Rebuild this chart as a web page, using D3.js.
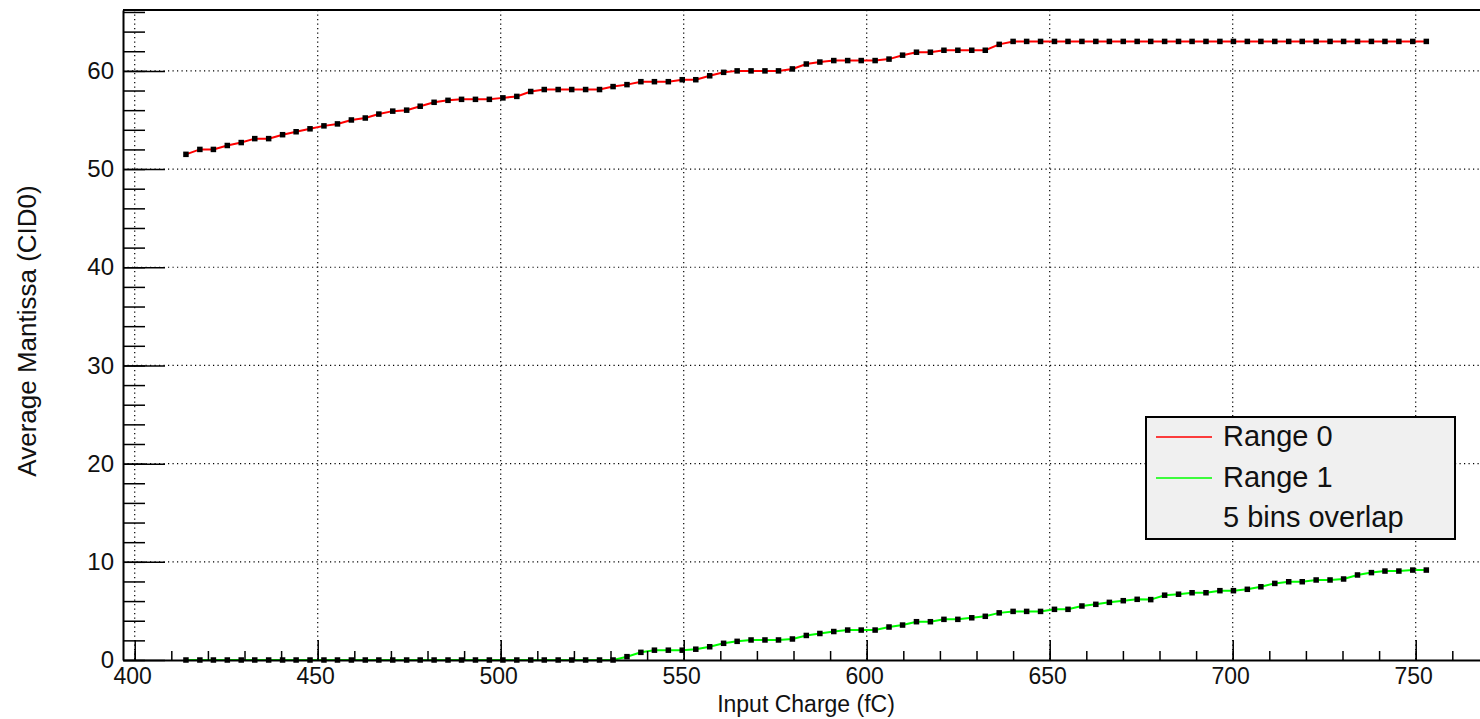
<!DOCTYPE html>
<html>
<head>
<meta charset="utf-8">
<script src="https://cdn.jsdelivr.net/npm/d3@7"></script>
<style>
    body { margin: 0; background: #fff; }
    svg { display: block; font-family: "Liberation Sans", Arial, sans-serif; }
</style>
</head>
<body>
<div id="chart"></div>
<script>
// Input charge values (fC), same for both ranges
const charges = [
    414.0, 417.8, 421.5, 425.3, 429.1, 432.8, 436.6, 440.4, 444.1, 447.9,
    451.7, 455.4, 459.2, 463.0, 466.7, 470.5, 474.3, 478.0, 481.8, 485.6,
    489.3, 493.1, 496.9, 500.6, 504.4, 508.2, 511.9, 515.7, 519.4, 523.2,
    527.0, 530.7, 534.5, 538.3, 542.0, 545.8, 549.6, 553.3, 557.1, 560.9,
    564.6, 568.4, 572.2, 575.9, 579.7, 583.5, 587.2, 591.0, 594.8, 598.5,
    602.3, 606.1, 609.8, 613.6, 617.4, 621.1, 624.9, 628.7, 632.4, 636.2,
    640.0, 643.7, 647.5, 651.3, 655.0, 658.8, 662.6, 666.3, 670.1, 673.9,
    677.6, 681.4, 685.2, 688.9, 692.7, 696.5, 700.2, 704.0, 707.7, 711.5,
    715.3, 719.0, 722.8, 726.6, 730.3, 734.1, 737.9, 741.6, 745.4, 749.2,
    752.9
];

// Range 0 average mantissa
const range0 = [
    51.5, 52.0, 52.0, 52.4, 52.7, 53.1, 53.1, 53.5, 53.8, 54.1,
    54.4, 54.6, 55.0, 55.2, 55.6, 55.9, 56.0, 56.4, 56.8, 57.0,
    57.1, 57.1, 57.1, 57.25, 57.4, 57.9, 58.1, 58.1, 58.1, 58.1,
    58.1, 58.4, 58.6, 58.9, 58.9, 58.9, 59.1, 59.1, 59.5, 59.85,
    60.0, 60.0, 60.0, 60.0, 60.2, 60.7, 60.9, 61.05, 61.05, 61.05,
    61.05, 61.2, 61.6, 61.9, 61.9, 62.1, 62.1, 62.1, 62.1, 62.7,
    63.0, 63.0, 63.0, 63.0, 63.0, 63.0, 63.0, 63.0, 63.0, 63.0,
    63.0, 63.0, 63.0, 63.0, 63.0, 63.0, 63.0, 63.0, 63.0, 63.0,
    63.0, 63.0, 63.0, 63.0, 63.0, 63.0, 63.0, 63.0, 63.0, 63.0,
    63.0
];

// Range 1 average mantissa
const range1 = [
    0, 0, 0, 0, 0, 0, 0, 0, 0, 0,
    0, 0, 0, 0, 0, 0, 0, 0, 0, 0,
    0, 0, 0, 0, 0, 0, 0, 0, 0, 0,
    0, 0, 0.34, 0.78, 1.0, 1.0, 1.0, 1.1, 1.35, 1.7,
    1.9, 2.04, 2.04, 2.04, 2.14, 2.5, 2.7, 2.9, 3.05, 3.05,
    3.05, 3.36, 3.56, 3.9, 3.9, 4.14, 4.14, 4.3, 4.45, 4.8,
    4.95, 4.95, 4.95, 5.16, 5.16, 5.5, 5.67, 5.87, 6.04, 6.18,
    6.15, 6.6, 6.7, 6.85, 6.85, 7.06, 7.06, 7.2, 7.46, 7.8,
    7.97, 7.97, 8.15, 8.15, 8.25, 8.66, 8.9, 9.06, 9.06, 9.16,
    9.16
];

const xTicks = [400, 450, 500, 550, 600, 650, 700, 750];
const yTicks = [0, 10, 20, 30, 40, 50, 60];
const legendLabels = ['Range 0', 'Range 1', '5 bins overlap'];

const width = 1480;
const height = 719;
const plotLeft = 123, plotRight = 1490, plotTop = 10, plotBottom = 660;

const svg = d3.select('#chart')
    .append('svg')
    .attr('width', width)
    .attr('height', height);

const x = d3.scaleLinear()
    .domain([396.8, 770.3])
    .range([plotLeft, plotRight]);

const y = d3.scaleLinear()
    .domain([0, 66.2])
    .range([plotBottom, plotTop]);

// Dotted grid
const grid = svg.append('g')
    .attr('stroke', '#000')
    .attr('stroke-width', 1.2)
    .attr('stroke-dasharray', '1.2,3.3');

grid.selectAll('line.gx')
    .data(xTicks)
    .join('line')
    .attr('class', 'gx')
    .attr('x1', d => x(d)).attr('x2', d => x(d))
    .attr('y1', plotTop).attr('y2', plotBottom);

grid.selectAll('line.gy')
    .data(yTicks.filter(d => d > 0))
    .join('line')
    .attr('class', 'gy')
    .attr('x1', plotLeft).attr('x2', plotRight)
    .attr('y1', d => y(d)).attr('y2', d => y(d));

// Series lines and markers
const series = [
    { name: 'Range 0', values: range0, color: '#ff0000' },
    { name: 'Range 1', values: range1, color: '#00ff00' }
];

const line = d3.line()
    .x(d => x(d[0]))
    .y(d => y(d[1]));

series.forEach(s => {
    const pts = charges.map((c, i) => [c, s.values[i]]);

    svg.append('path')
        .datum(pts)
        .attr('fill', 'none')
        .attr('stroke', s.color)
        .attr('stroke-width', 2)
        .attr('d', line);

    svg.append('g')
        .selectAll('rect')
        .data(pts)
        .join('rect')
        .attr('x', d => x(d[0]) - 2.75)
        .attr('y', d => y(d[1]) - 2.75)
        .attr('width', 5.5)
        .attr('height', 5.5)
        .attr('fill', '#000');
});

// Minor ticks (inside the frame)
svg.append('g')
    .attr('transform', `translate(0,${plotBottom})`)
    .call(d3.axisBottom(x).tickValues(d3.range(400, 770, 10)).tickSizeInner(-9).tickSizeOuter(0).tickFormat(''))
    .call(g => g.select('.domain').remove())
    .selectAll('line').attr('stroke', '#000').attr('stroke-width', 1.5);

svg.append('g')
    .attr('transform', `translate(${plotLeft},0)`)
    .call(d3.axisLeft(y).tickValues(d3.range(0, 67, 2)).tickSizeInner(-22).tickSizeOuter(0).tickFormat(''))
    .call(g => g.select('.domain').remove())
    .selectAll('line').attr('stroke', '#000').attr('stroke-width', 1.5);

// Major ticks and labels
const xAxis = svg.append('g')
    .attr('transform', `translate(0,${plotBottom})`)
    .call(d3.axisBottom(x).tickValues(xTicks).tickSizeInner(-20).tickSizeOuter(0).tickPadding(8));

xAxis.selectAll('line').attr('stroke', '#000').attr('stroke-width', 1.5);
xAxis.selectAll('text')
    .attr('font-size', 23)
    .attr('fill', '#111')
    .attr('dx', -2.5);

const yAxis = svg.append('g')
    .attr('transform', `translate(${plotLeft},0)`)
    .call(d3.axisLeft(y).tickValues(yTicks).tickSizeInner(-42).tickSizeOuter(0).tickPadding(9));

yAxis.selectAll('line').attr('stroke', '#000').attr('stroke-width', 1.5);
yAxis.selectAll('text')
    .attr('font-size', 24)
    .attr('fill', '#111');

xAxis.select('.domain').attr('stroke', '#000').attr('stroke-width', 2);
yAxis.select('.domain').attr('stroke', '#000').attr('stroke-width', 2);

// Top edge of the frame
svg.append('line')
    .attr('x1', plotLeft).attr('x2', plotRight)
    .attr('y1', plotTop).attr('y2', plotTop)
    .attr('stroke', '#000')
    .attr('stroke-width', 2);

// Axis titles
svg.append('text')
    .attr('x', 806)
    .attr('y', 712)
    .attr('text-anchor', 'middle')
    .attr('font-size', 23)
    .attr('fill', '#111')
    .text('Input Charge (fC)');

svg.append('text')
    .attr('transform', 'translate(36,331) rotate(-90)')
    .attr('text-anchor', 'middle')
    .attr('font-size', 26)
    .attr('fill', '#111')
    .text('Average Mantissa (CID0)');

// Legend
const legend = svg.append('g').attr('transform', 'translate(1146,417)');

legend.append('rect')
    .attr('width', 309)
    .attr('height', 122)
    .attr('fill', '#f0f0f0')
    .attr('stroke', '#000')
    .attr('stroke-width', 2);

const legendColors = [series[0].color, series[1].color];

legend.selectAll('line')
    .data(legendColors)
    .join('line')
    .attr('x1', 10).attr('x2', 66)
    .attr('y1', (d, i) => 20 + i * 41)
    .attr('y2', (d, i) => 20 + i * 41)
    .attr('stroke', d => d)
    .attr('stroke-width', 1.5);

legend.selectAll('text')
    .data(legendLabels)
    .join('text')
    .attr('x', 77)
    .attr('y', (d, i) => 29 + i * 40.5)
    .attr('font-size', 29)
    .attr('fill', '#111')
    .text(d => d);
</script>
</body>
</html>
